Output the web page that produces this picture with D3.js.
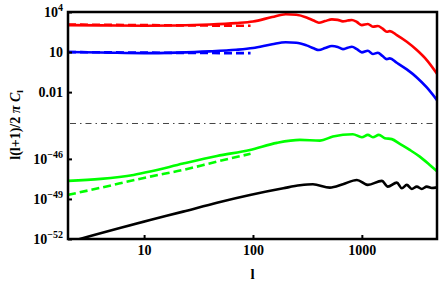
<!DOCTYPE html>
<html>
<head>
<meta charset="utf-8">
<script src="https://cdn.jsdelivr.net/npm/d3@7"></script>
<style>
body{margin:0;background:#fff;}
svg{display:block;}
text{font-family:"Liberation Serif","Times New Roman",serif;font-weight:bold;fill:#000;}
</style>
</head>
<body>
<svg id="chart" width="439" height="284"></svg>
<script>
// multipoles and log10 of l(l+1)C_l/2pi
const lTemp = [2,4,10,20,40,70,100,150,200,250,310,360,403,460,531,600,670,740,810,900,1000,1135,1262,1403,1550,1695,1806,2094,2587,3197,3947,4900];
const redSolid = [3.02,3.00,2.97,2.99,3.06,3.17,3.29,3.62,3.83,3.79,3.59,3.36,3.20,3.32,3.45,3.41,3.30,3.36,3.40,3.25,3.02,3.10,2.90,2.95,2.75,2.52,2.57,2.27,1.77,1.15,0.40,-0.62];
const blueSolid = [1.00,0.97,0.92,0.96,1.05,1.17,1.30,1.58,1.73,1.70,1.50,1.28,1.15,1.30,1.45,1.38,1.22,1.32,1.40,1.22,0.98,1.10,0.85,0.95,0.70,0.47,0.53,0.20,-0.30,-0.90,-1.65,-2.60];

const lLow = [2,10,30,95];
const redDashed = [3.06,3.02,2.99,2.97];
const blueDashed = [1.00,0.96,0.93,0.92];

const lGreen = [2,4,8,11.35,22.8,46.7,93.8,166,270,412,542,826,1000,1135,1262,1432,1625,1884,2232,2754,3404,4206,4900];
const greenSolid = [-47.65,-47.5,-47.2,-46.95,-46.35,-45.78,-45.33,-44.8,-44.58,-44.63,-44.33,-44.15,-44.38,-44.2,-44.38,-44.2,-44.45,-44.52,-44.88,-45.33,-45.83,-46.45,-46.92];

const lGreenDash = [2,3.94,11.35,22.8,46.7,95];
const greenDashed = [-48.7,-48.17,-47.33,-46.83,-46.2,-45.62];

const lBlack = [2,2.43,11.35,22.8,46.7,93.8,190,270,355,508,670,900,1135,1525,1733,2094,2328,2587,2877,3197,3550,3947,4385,4900];
const blackSolid = [-52.24,-52.05,-50.58,-49.95,-49.28,-48.7,-48.2,-47.98,-47.9,-48.15,-47.9,-47.58,-47.95,-47.65,-48.08,-47.78,-48.2,-47.95,-48.25,-48.08,-48.25,-48.08,-48.18,-48.13];

const xTicks = [10,100,1000];
const yTicks = [-52,-49,-46,-2,1,4];
const yTickBase = ["10","10","10","0.01","10","10"];
const yTickExp = ["\u221252","\u221249","\u221246","","","4"];
const breakLevel = -4.35;

const svg = d3.select('#chart');
const margin = { top:12, right:2, bottom:45, left:68 };
const width = +svg.attr('width');
const height = +svg.attr('height');
const innerWidth = width - margin.left - margin.right;
const innerHeight = height - margin.top - margin.bottom;

const xscale = d3.scaleLog()
    .domain([2,4900])
    .range([0,innerWidth]);

// broken log axis: two pieces of 6 decades with a gap between
const yscale = d3.scaleLinear()
    .domain([-52,-43.5,-4.5,4])
    .range([innerHeight, innerHeight/2, innerHeight/2, 0]);

const g = svg.append('g')
    .attr('transform',`translate(${margin.left},${margin.top})`);

g.append('clipPath').attr('id','clip')
    .append('rect').attr('width',innerWidth).attr('height',innerHeight);

// dash-dot separator
g.append('line')
    .attr('x1',2).attr('x2',innerWidth)
    .attr('y1',yscale(breakLevel)).attr('y2',yscale(breakLevel))
    .attr('stroke','#444').attr('stroke-width',1)
    .attr('stroke-dasharray','6,4,1.5,4');

const line = d3.line()
    .x(d => xscale(d[0]))
    .y(d => yscale(d[1]))
    .curve(d3.curveMonotoneX);

const series = [
    {l:lBlack, v:blackSolid, color:'#000', dash:null},
    {l:lGreen, v:greenSolid, color:'#00ff00', dash:null},
    {l:lGreenDash, v:greenDashed, color:'#00ff00', dash:'8,4'},
    {l:lTemp, v:blueSolid, color:'#0000ff', dash:null},
    {l:lLow, v:blueDashed, color:'#0000ff', dash:'8,4'},
    {l:lTemp, v:redSolid, color:'#ff0000', dash:null},
    {l:lLow, v:redDashed, color:'#ff0000', dash:'8,4'}
];

const curves = g.append('g').attr('clip-path','url(#clip)');
series.forEach(s => {
    curves.append('path')
        .datum(s.l.map((l,i) => [l, s.v[i]]))
        .attr('fill','none')
        .attr('stroke',s.color)
        .attr('stroke-width',2.6)
        .attr('stroke-dasharray',s.dash)
        .attr('d',line);
});

const xAxis = g.append('g')
    .attr('transform',`translate(0,${innerHeight})`)
    .call(d3.axisBottom(xscale).tickValues(xTicks).tickFormat(d3.format('d')).tickSize(-4).tickPadding(6));

const yAxis = g.append('g')
    .call(d3.axisLeft(yscale).tickValues(yTicks).tickSize(-4));

[xAxis,yAxis].forEach(a => {
    a.select('.domain').remove();
    a.selectAll('.tick line').attr('stroke','#000').attr('stroke-width',2);
});
yAxis.selectAll('.tick text').remove();
xAxis.selectAll('.tick text').attr('font-size',14).attr('font-family',null);

// y tick labels with superscript exponents
const ylabels = g.append('g').attr('class','y-labels');
yTicks.forEach((v,i) => {
    const t = ylabels.append('text')
        .attr('x',-5)
        .attr('y',yscale(v) + 5)
        .attr('text-anchor','end')
        .attr('font-size',14);
    t.append('tspan').text(yTickBase[i]);
    if(yTickExp[i]) t.append('tspan').attr('font-size',10).attr('dy',-6).text(yTickExp[i]);
});

g.append('rect')
    .attr('width',innerWidth).attr('height',innerHeight)
    .attr('fill','none').attr('stroke','#000').attr('stroke-width',2.5);

xAxis.append('text')
    .attr('x',innerWidth/2)
    .attr('y',40)
    .attr('font-size',15)
    .attr('text-anchor','middle')
    .text('l');

const ylab = svg.append('text')
    .attr('transform',`translate(20,125) rotate(-90)`)
    .attr('text-anchor','middle')
    .attr('font-size',14);
ylab.append('tspan').text('l(l+1)/2 ');
ylab.append('tspan').attr('font-style','italic').text('\u03c0 C');
ylab.append('tspan').attr('font-size',9).attr('dy',3).text('l');
</script>
</body>
</html>
